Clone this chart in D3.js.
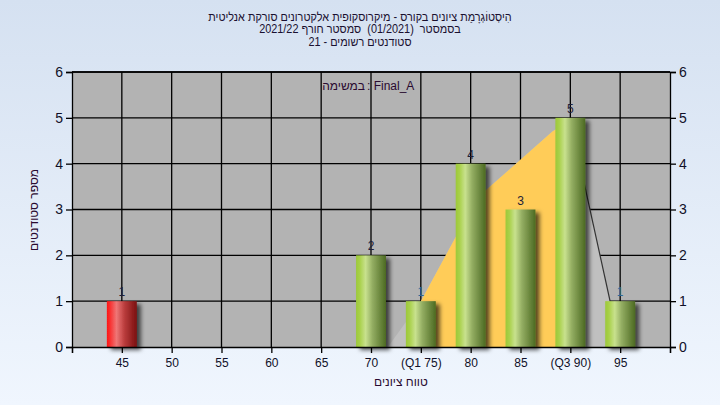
<!DOCTYPE html>
<html>
<head>
<meta charset="utf-8">
<script src="https://cdn.jsdelivr.net/npm/d3@7"></script>
<style>
  body { margin: 0; }
  svg { display: block; font-family: "Liberation Sans", Arial, sans-serif; }
</style>
</head>
<body>
<div id="chart"></div>
<script>
// grade bins and number of students in each
let grades = [45, 50, 55, 60, 65, 70, 75, 80, 85, 90, 95];
let counts = [1, 0, 0, 0, 0, 2, 1, 4, 3, 5, 1];
let gradeLabels = ["45", "50", "55", "60", "65", "70", "(Q1 75)", "80", "85", "(Q3 90)", "95"];
let failGrades = [45];

// the shaded distribution area behind the bars
let curveX = [71.7, 75, 78.5, 81.2, 88.2, 90, 95];
let curveY = [0, 1, 2.4, 3.36, 4.7, 4.95, 0];
let q1 = 75, q3 = 90;

let titleLines = [
  "הִיסְטוֹגְרָמַת ציונים בקורס - מיקרוסקופית אלקטרונים סורקת אנליטית",
  "בסמסטר  (01/2021)  סמסטר חורף 2021/22",
  "סטודנטים רשומים - 21"
];

let W = 720, H = 405;
let margin = {top: 72, right: 50, bottom: 58, left: 72};

let svg = d3.select("#chart").append("svg")
  .attr("width", W)
  .attr("height", H);

let defs = svg.append("defs");

// page background
let bg = defs.append("linearGradient").attr("id", "bg")
  .attr("x1", 0).attr("y1", 0).attr("x2", 0).attr("y2", 1);
bg.append("stop").attr("offset", "0%").attr("stop-color", "#d5e1f1");
bg.append("stop").attr("offset", "100%").attr("stop-color", "#f0f6fe");

// cylinder-ish bar fills
function barGradient(id, stops) {
  let g = defs.append("linearGradient").attr("id", id)
    .attr("x1", 0).attr("y1", 0).attr("x2", 1).attr("y2", 0);
  stops.forEach(s => g.append("stop").attr("offset", s[0]).attr("stop-color", s[1]));
}
barGradient("green", [["0%", "#9cc83a"], ["12%", "#a8d048"], ["32%", "#c8e18e"], ["55%", "#93ad62"], ["100%", "#4c6a22"]]);
barGradient("red", [["0%", "#ff1414"], ["12%", "#f83434"], ["32%", "#ef7676"], ["60%", "#b83a3a"], ["100%", "#7a1010"]]);

let shadow = defs.append("filter").attr("id", "shadow")
  .attr("x", "-30%").attr("y", "-10%").attr("width", "180%").attr("height", "130%");
shadow.append("feDropShadow")
  .attr("dx", 4).attr("dy", 3)
  .attr("stdDeviation", 2.2)
  .attr("flood-color", "#000")
  .attr("flood-opacity", 0.65);

svg.append("rect")
  .attr("width", W)
  .attr("height", H)
  .attr("fill", "url(#bg)");

// title (the original font is narrower, so squeeze it a bit)
svg.append("text")
  .attr("transform", "translate(" + (W / 2) + ",0) scale(0.87,1)")
  .attr("text-anchor", "middle")
  .attr("direction", "rtl")
  .style("white-space", "pre")
  .style("font-size", "12.5px")
  .style("fill", "#1a1030")
  .selectAll("tspan")
  .data(titleLines)
  .join("tspan")
    .attr("x", 0)
    .attr("y", (d, i) => 21 + i * 12.5)
    .text(d => d);

let x = d3.scaleLinear()
  .domain([40, 100])
  .range([margin.left, W - margin.right]);

let y = d3.scaleLinear()
  .domain([0, 6])
  .range([H - margin.bottom, margin.top]);

// plot background
svg.append("rect")
  .attr("x", x(40))
  .attr("y", y(6))
  .attr("width", x(100) - x(40))
  .attr("height", y(0) - y(6))
  .attr("fill", "#b3b3b3");

// grid
svg.append("g")
  .selectAll("line")
  .data([1, 2, 3, 4, 5, 6])
  .join("line")
    .attr("x1", x(40)).attr("x2", x(100))
    .attr("y1", d => y(d)).attr("y2", d => y(d))
    .attr("stroke", "#000").attr("stroke-width", 1.3);

svg.append("g")
  .selectAll("line")
  .data(grades)
  .join("line")
    .attr("x1", d => x(d)).attr("x2", d => x(d))
    .attr("y1", y(0)).attr("y2", y(6))
    .attr("stroke", "#000").attr("stroke-width", 1.3);

// distribution area: light grey outside Q1..Q3, orange inside
let curveData = curveX.map((v, i) => ({x: v, y: curveY[i]}));

let area = d3.area()
  .x(d => x(d.x))
  .y0(y(0))
  .y1(d => y(d.y));

svg.append("path")
  .datum(curveData)
  .attr("d", area)
  .attr("fill", "#c0c0c0");

defs.append("clipPath").attr("id", "iqr")
  .append("rect")
    .attr("x", x(q1))
    .attr("y", y(6))
    .attr("width", x(q3) - x(q1))
    .attr("height", y(0) - y(6));

svg.append("path")
  .datum(curveData)
  .attr("d", area)
  .attr("clip-path", "url(#iqr)")
  .attr("fill", "#ffcc58");

// outline on the falling side of the curve
svg.append("path")
  .datum(curveData.filter(d => d.x >= q3))
  .attr("d", d3.line().x(d => x(d.x)).y(d => y(d.y)))
  .attr("fill", "none")
  .attr("stroke", "#333")
  .attr("stroke-width", 1.2);

// bars
let bars = grades.map((g, i) => ({grade: g, count: counts[i], label: gradeLabels[i]}))
  .filter(d => d.count > 0);

svg.append("g")
  .selectAll("rect")
  .data(bars)
  .join("rect")
    .attr("x", d => x(d.grade - 1.5))
    .attr("y", d => y(d.count))
    .attr("width", x(d3.min(grades) + 1.5) - x(d3.min(grades) - 1.5))
    .attr("height", d => y(0) - y(d.count))
    .attr("fill", d => failGrades.includes(d.grade) ? "url(#red)" : "url(#green)")
    .attr("filter", "url(#shadow)");

// value labels
svg.append("g")
  .selectAll("text")
  .data(bars)
  .join("text")
    .attr("x", d => x(d.grade))
    .attr("y", d => y(d.count) - 5)
    .attr("text-anchor", "middle")
    .style("font-size", "12px")
    .style("fill", d => d.grade === 75 || d.grade === 95 ? "#2f6898" : "#1e1e38")
    .text(d => d.count);

// axes
let yTicks = [0, 1, 2, 3, 4, 5, 6];

let axisLeft = svg.append("g")
  .attr("transform", "translate(" + x(40) + ",0)")
  .call(d3.axisLeft(y).tickValues(yTicks).tickFormat(d3.format("d")).tickSize(6).tickPadding(3));

let axisRight = svg.append("g")
  .attr("transform", "translate(" + x(100) + ",0)")
  .call(d3.axisRight(y).tickValues(yTicks).tickFormat(d3.format("d")).tickSize(6).tickPadding(3));

let axisBottom = svg.append("g")
  .attr("transform", "translate(0," + y(0) + ")")
  .call(d3.axisBottom(x)
    .tickValues(d3.range(40, 101, 5))
    .tickSize(6)
    .tickPadding(5)
    .tickFormat(d => {
      let i = grades.indexOf(d);
      return i >= 0 ? gradeLabels[i] : "";
    }));

[axisLeft, axisRight, axisBottom].forEach(a => {
  a.selectAll("path, line").attr("stroke", "#000").attr("stroke-width", 1.3);
  a.selectAll("text").style("fill", "#101028").style("font-family", "Liberation Sans, Arial, sans-serif");
});
axisLeft.selectAll("text").style("font-size", "14px");
axisRight.selectAll("text").style("font-size", "14px");
axisBottom.selectAll("text").style("font-size", "12px");

// top border of the plot
svg.append("line")
  .attr("x1", x(40)).attr("x2", x(100))
  .attr("y1", y(6)).attr("y2", y(6))
  .attr("stroke", "#000").attr("stroke-width", 1.3);

// series caption inside the plot: hebrew word on the left, task name on the right
svg.append("text")
  .attr("x", 365)
  .attr("y", 90)
  .attr("text-anchor", "end")
  .style("font-size", "12px")
  .style("fill", "#2a0a30")
  .text("במשימה");

svg.append("text")
  .attr("x", 367)
  .attr("y", 90)
  .attr("text-anchor", "start")
  .style("font-size", "12px")
  .style("fill", "#2a0a30")
  .text(": Final_A");

// axis titles
svg.append("text")
  .attr("x", x(73))
  .attr("y", 386)
  .attr("text-anchor", "middle")
  .style("font-size", "12px")
  .style("fill", "#2a0a30")
  .text("טווח ציונים");

svg.append("text")
  .attr("transform", "translate(38," + 210 + ") rotate(-90)")
  .attr("text-anchor", "middle")
  .style("font-size", "12px")
  .style("fill", "#2a0a30")
  .text("מספר סטודנטים");
</script>
</body>
</html>
